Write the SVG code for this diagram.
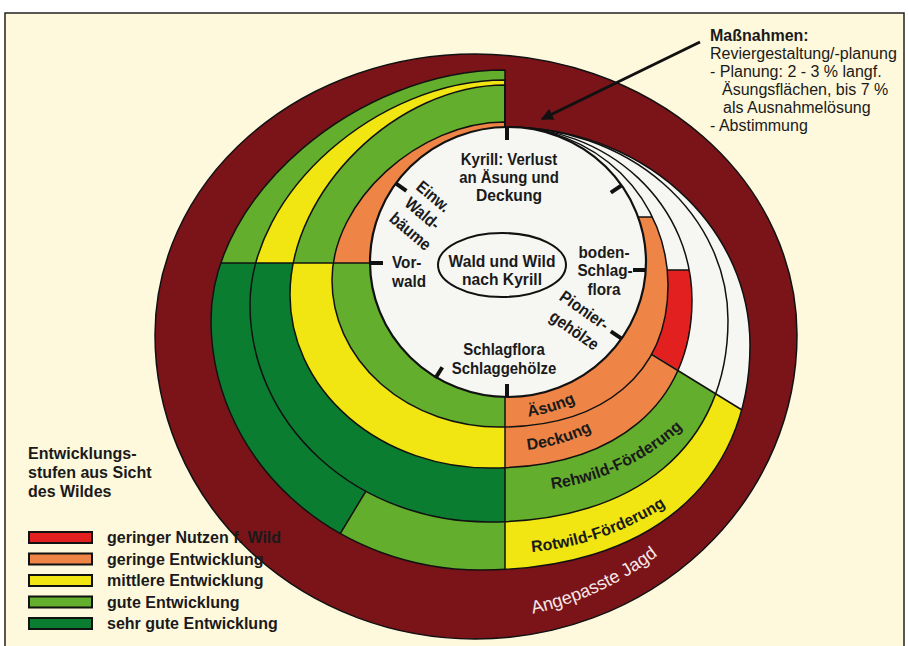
<svg xmlns="http://www.w3.org/2000/svg" width="908" height="646" viewBox="0 0 908 646">
<defs>
<style>
.ln{fill:none;stroke:#111;stroke-width:1.5;stroke-linejoin:round}
.tk{stroke:#111;stroke-width:4}
.t{font-family:"Liberation Sans",Arial,sans-serif;fill:#1a1a1a;font-size:16px}
.b{font-weight:bold}
.c{text-anchor:middle}
.s17{font-size:17px}
.dr{fill:#7a1419}.wh{fill:#f6f6f3}.gr{fill:#63ae2c}.dg{fill:#0b7d30}.ye{fill:#f1e512}.or{fill:#ee8446}.rd{fill:#e1201f}
.sw{stroke:#111;stroke-width:2}
</style>
<path id="OUT" d="M475,54 A322,281 0 0 1 797,335 A322,304 0 0 1 475,639 A320,304 0 0 1 155,335 A320,281 0 0 1 475,54 Z"/>
<path id="B4" d="M507,127 A243,218 0 0 1 750,345 C750,484.5 647.6,570 480.5,570 A269.5,250 0 0 1 211,320 C211,195 358,70 505,70 L505,127 Z"/>
<path id="B3" d="M507,127 A221,193 0 0 1 728,320 C728,445.2 636.8,522 488,522 A238,217 0 0 1 250,305 C250,192.5 377.5,80 505,80 L505,127 Z"/>
<path id="B2" d="M507,127 A185,173 0 0 1 692,300 C692,404.2 615.2,468 490,468 A200,173 0 0 1 290,295 C290,190 397.5,85 505,85 L505,127 Z"/>
<path id="B1" d="M507,127 A161,158 0 0 1 668,285 C668,373 604,427 499.5,427 A167.5,147 0 0 1 332,280 C332,201 418.5,122 505,122 L505,127 Z"/>
<clipPath id="cUL"><rect x="0" y="0" width="505" height="263"/></clipPath>
<clipPath id="cLL"><rect x="0" y="263" width="505" height="400"/></clipPath>
<clipPath id="cLLa"><polygon points="505,263 0,263 0,700 239,700"/></clipPath>
<clipPath id="cLLb"><polygon points="505,263 239,700 505,700"/></clipPath>
<clipPath id="cBR"><polygon points="505,262 908,514 908,700 505,700"/></clipPath>
<clipPath id="cRed"><polygon points="560,270 908,270 908,514 560,296"/></clipPath>
<clipPath id="cR1"><rect x="505" y="217" width="403" height="483"/></clipPath>
<path id="pAsung" d="M498.8,417.8 A156,156 0 0 0 601,386.6"/>
<path id="pDeck" d="M495.5,450.6 A189,189 0 0 0 619.4,413.9"/>
<path id="pReh" d="M499,490.1 A241,241 0 0 0 717.4,388.2"/>
<path id="pRot" d="M451.5,547.6 A291,291 0 0 0 726.6,452.9"/>
<path id="pJagd" d="M437.5,619.8 A316,316 0 0 0 723.9,486.3"/>
<marker id="ah" viewBox="0 0 10 10" refX="9" refY="5" markerWidth="5" markerHeight="4" orient="auto" markerUnits="strokeWidth"><path d="M0,0 L10,5 L0,10 Z" fill="#111"/></marker>
</defs>

<rect x="0" y="0" width="908" height="646" fill="#ffffff"/>
<rect x="5" y="13" width="899" height="640" fill="#fef8dc" stroke="#222" stroke-width="1.5"/>

<g id="ring-jagd">
<use href="#OUT" class="dr"/>
<use href="#OUT" class="ln"/>
<text class="t" style="fill:#f6e8e8;font-size:18px"><textPath href="#pJagd" startOffset="50%" text-anchor="middle">Angepasste Jagd</textPath></text>
</g>

<g id="ring4">
<use href="#B4" class="wh"/>
<use href="#B4" class="gr" clip-path="url(#cUL)"/>
<use href="#B4" class="dg" clip-path="url(#cLLa)"/>
<use href="#B4" class="gr" clip-path="url(#cLLb)"/>
<use href="#B4" class="ye" clip-path="url(#cBR)"/>
</g>
<g id="ring3">
<use href="#B3" class="ye" clip-path="url(#cUL)"/>
<use href="#B3" class="dg" clip-path="url(#cLL)"/>
<use href="#B3" class="gr" clip-path="url(#cBR)"/>
</g>
<g id="ring2">
<use href="#B2" class="gr" clip-path="url(#cUL)"/>
<use href="#B2" class="ye" clip-path="url(#cLL)"/>
<use href="#B2" class="or" clip-path="url(#cBR)"/>
<use href="#B2" class="rd" clip-path="url(#cRed)"/>
</g>
<g id="ring1">
<use href="#B1" class="or" clip-path="url(#cUL)"/>
<use href="#B1" class="gr" clip-path="url(#cLL)"/>
<use href="#B1" class="or" clip-path="url(#cR1)"/>
</g>

<g id="ring-lines">
<use href="#B4" class="ln"/>
<use href="#B3" class="ln"/>
<use href="#B2" class="ln"/>
<use href="#B1" class="ln"/>
<line class="ln" x1="651" y1="354" x2="742" y2="410"/>
<line class="ln" x1="667" y1="270" x2="689" y2="270"/>
<line class="ln" x1="638" y1="217" x2="652.5" y2="217"/>
<line class="ln" x1="366" y1="491" x2="340" y2="534"/>
<line class="ln" x1="220" y1="263" x2="372" y2="263"/>
<line class="ln" x1="505" y1="396" x2="505" y2="570"/>
</g>

<g id="ring-labels">
<text class="t b"><textPath href="#pAsung" startOffset="50%" text-anchor="middle">Äsung</textPath></text>
<text class="t b"><textPath href="#pDeck" startOffset="50%" text-anchor="middle">Deckung</textPath></text>
<text class="t b"><textPath href="#pReh" startOffset="50%" text-anchor="middle">Rehwild-Förderung</textPath></text>
<text class="t b"><textPath href="#pRot" startOffset="50%" text-anchor="middle">Rotwild-Förderung</textPath></text>
</g>

<g id="node-core">
<ellipse cx="508" cy="262" rx="138" ry="135" class="wh" stroke="#111" stroke-width="2.2"/>
<line class="tk" x1="507" y1="127" x2="507" y2="140"/>
<line class="tk" x1="621.6" y1="185.4" x2="610.8" y2="192.7"/>
<line class="tk" x1="646" y1="270" x2="633" y2="270"/>
<line class="tk" x1="621.6" y1="338.6" x2="610.8" y2="331.3"/>
<line class="tk" x1="507" y1="397" x2="507" y2="384"/>
<line class="tk" x1="435.4" y1="378.2" x2="442.3" y2="367.2"/>
<line class="tk" x1="370" y1="263" x2="383" y2="263"/>
<line class="tk" x1="395.8" y1="183.4" x2="406.4" y2="190.9"/>
</g>

<g id="node-kyrill">
<text class="t b c s17" transform="translate(509,165) scale(0.88,1)">Kyrill: Verlust</text>
<text class="t b c s17" transform="translate(509,183) scale(0.88,1)">an Äsung und</text>
<text class="t b c s17" transform="translate(509,201) scale(0.92,1)">Deckung</text>
</g>
<g id="node-wald-und-wild">
<ellipse cx="502" cy="265" rx="64" ry="32" fill="#f6f6f3" stroke="#111" stroke-width="2"/>
<text class="t b c s17" transform="translate(502,267) scale(0.92,1)">Wald und Wild</text>
<text class="t b c s17" transform="translate(502,285) scale(0.92,1)">nach Kyrill</text>
</g>
<g id="node-einw">
<text class="t b c s17" transform="translate(433,197) rotate(40) scale(0.88,1)" y="5">Einw.</text>
<text class="t b c s17" transform="translate(422,214) rotate(40) scale(0.88,1)" y="5">Wald-</text>
<text class="t b c s17" transform="translate(410,232) rotate(40) scale(0.88,1)" y="5">bäume</text>
</g>
<g id="node-vorwald">
<text class="t b s17" transform="translate(392,268) scale(0.9,1)">Vor-</text>
<text class="t b s17" transform="translate(392,287) scale(0.9,1)">wald</text>
</g>
<g id="node-boden">
<text class="t b c s17" transform="translate(604,258) scale(0.9,1)">boden-</text>
<text class="t b c s17" transform="translate(605,276) scale(0.9,1)">Schlag-</text>
<text class="t b c s17" transform="translate(604,295) scale(0.9,1)">flora</text>
</g>
<g id="node-pionier">
<text class="t b c s17" transform="translate(584,311) rotate(35) scale(0.88,1)" y="5">Pionier-</text>
<text class="t b c s17" transform="translate(574,331) rotate(35) scale(0.88,1)" y="5">gehölze</text>
</g>
<g id="node-schlag">
<text class="t b c s17" transform="translate(504,355) scale(0.88,1)">Schlagflora</text>
<text class="t b c s17" transform="translate(504,374) scale(0.88,1)">Schlaggehölze</text>
</g>

<g id="node-massnahmen">
<text class="t b" x="710" y="41">Maßnahmen:</text>
<text class="t" x="710" y="59">Reviergestaltung/-planung</text>
<text class="t" x="710" y="77">- Planung: 2 - 3 % langf.</text>
<text class="t" x="722" y="95">Äsungsflächen, bis 7 %</text>
<text class="t" x="723" y="113">als Ausnahmelösung</text>
<text class="t" x="710" y="131">- Abstimmung</text>
</g>

<g id="connectors">
<line x1="700" y1="42" x2="542" y2="119" stroke="#111" stroke-width="3" marker-end="url(#ah)"/>
</g>

<g id="legend">
<text class="t b" x="28" y="459">Entwicklungs-</text>
<text class="t b" x="28" y="478">stufen aus Sicht</text>
<text class="t b" x="28" y="497">des Wildes</text>
<rect x="29" y="532" width="63" height="11" class="rd sw"/>
<rect x="29" y="553.5" width="63" height="11" class="or sw"/>
<rect x="29" y="575" width="63" height="11" class="ye sw"/>
<rect x="29" y="596.5" width="63" height="11" class="gr sw"/>
<rect x="29" y="618" width="63" height="11" class="dg sw"/>
<text class="t b" x="107" y="543">geringer Nutzen f. Wild</text>
<text class="t b" x="107" y="565">geringe Entwicklung</text>
<text class="t b" x="107" y="586">mittlere Entwicklung</text>
<text class="t b" x="107" y="608">gute Entwicklung</text>
<text class="t b" x="107" y="629">sehr gute Entwicklung</text>
</g>
</svg>
